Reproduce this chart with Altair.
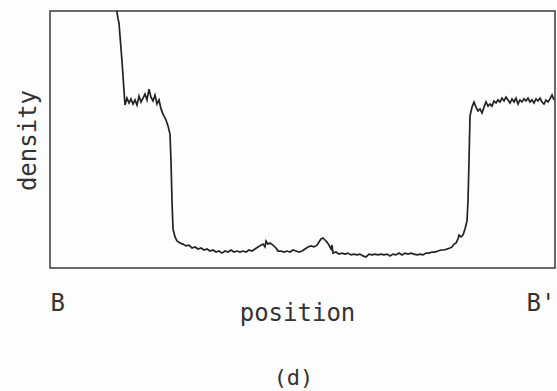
import altair as alt
import pandas as pd

position = [0, 30, 60, 66, 68, 69, 72, 75,
            77, 79, 81, 83, 85, 87, 89, 91, 93, 95, 97, 99, 101, 103, 105, 107, 109,
            111, 113, 116, 118, 120, 121, 122, 123, 125, 127, 130, 133, 136, 139,
            142, 145, 148, 151, 154, 157, 160, 163, 166, 169, 172, 175, 178, 181,
            184, 187, 190, 193, 196, 199, 202, 205, 208, 211, 213, 215, 216, 218,
            220, 223, 226, 228, 231, 234, 237, 240, 243, 246, 249, 252, 255, 258,
            261, 264, 267, 269, 271, 273, 275, 277, 279, 281, 282, 283, 286, 289,
            292, 295, 298, 301, 304, 307, 310, 313, 316, 319, 322, 325, 328, 331,
            334, 337, 340, 343, 346, 349, 352, 355, 358, 361, 364, 367, 370, 373,
            376, 379, 382, 385, 388, 391, 394, 397, 400, 402, 404, 406, 408, 409,
            411, 413, 415, 417, 418, 419, 420, 422, 424, 426, 428, 430, 432, 434,
            436, 438, 440, 442, 444, 446, 448, 450, 452, 454, 456, 458, 460, 462,
            464, 466, 468, 470, 472, 474, 476, 478, 480, 482, 484, 486, 488, 490,
            492, 494, 496, 498, 500, 502, 504]
density = [115, 114, 113, 102, 97, 95.3, 80.5, 63.4,
           66.1, 64.2, 65.8, 63.8, 65.4, 63.4, 66.9, 64.6, 66.1, 67.7, 65.4, 69.6, 66.5, 65.0, 67.3, 63.8, 65.4,
           61.9, 59.9, 57.6, 55.3, 52.1, 41.6, 26.1, 15.2, 12.1, 10.5, 9.7, 9.3, 8.6, 8.9,
           7.8, 8.2, 7.4, 7.8, 7.0, 7.4, 6.6, 7.0, 6.2, 6.6, 5.8, 6.6, 6.2, 7.0,
           6.2, 6.6, 6.2, 6.6, 6.2, 7.0, 6.6, 7.4, 8.2, 8.9, 9.3, 8.2, 10.5, 9.3,
           9.7, 8.9, 7.8, 6.6, 6.6, 6.2, 6.6, 6.2, 7.0, 6.6, 6.2, 6.6, 7.4, 8.2,
           8.6, 8.2, 8.9, 10.1, 11.3, 11.7, 10.9, 10.1, 8.9, 7.4, 8.9, 5.8, 6.2, 5.4,
           5.8, 5.4, 5.8, 5.1, 5.4, 5.1, 5.4, 4.7, 4.3, 5.4, 5.1, 5.4, 5.1, 5.4,
           5.1, 5.4, 4.7, 5.4, 5.1, 5.8, 5.1, 5.8, 5.4, 5.8, 5.4, 5.1, 5.4, 5.1,
           5.8, 5.8, 6.2, 6.2, 6.6, 7.0, 7.0, 7.4, 7.8, 8.2, 9.3, 9.7, 11.3, 12.8,
           12.1, 12.8, 15.2, 18.3, 26.1, 41.6, 59.1, 62.6, 64.6, 62.6, 61.1, 61.9, 60.3, 62.6,
           64.6, 63.0, 63.8, 63.0, 65.0, 64.2, 65.4, 64.6, 66.1, 65.0, 66.5, 65.4, 64.2, 65.8,
           64.6, 66.1, 63.8, 65.4, 64.6, 65.8, 65.0, 66.1, 64.6, 65.4, 64.2, 65.8, 65.0, 66.1,
           64.6, 63.8, 65.4, 64.6, 65.8, 67.3, 65.4]

end_labels = ["B", "B'"]
x_title = "position"
y_title = "density"
caption = "(d)"

df = pd.DataFrame({"position": position, "density": density})

FONT = "DejaVu Sans Mono"
INK = "#333333"

chart = alt.Chart(df).mark_line(
    color="#222222", strokeWidth=1.7, clip=True, interpolate="linear"
).encode(
    x=alt.X("position:Q",
            scale=alt.Scale(domain=[0, 505], nice=False, zero=False),
            axis=alt.Axis(values=[0, 505],
                          labelExpr=f"datum.value == 0 ? '{end_labels[0]}' : \"{end_labels[1]}\"",
                          labelFlush=True, ticks=False, domain=False, grid=False,
                          labelFont=FONT, labelFontSize=24, labelColor=INK,
                          labelPadding=23,
                          title=x_title, titleFont=FONT, titleFontSize=24,
                          titleFontWeight="normal", titleColor=INK,
                          titleX=247, titleY=52, titleBaseline="alphabetic")),
    y=alt.Y("density:Q",
            scale=alt.Scale(domain=[0, 100], nice=False, zero=False),
            axis=alt.Axis(labels=False, ticks=False, domain=False, grid=False,
                          title=y_title, titleFont=FONT, titleFontSize=24,
                          titleFontWeight="normal", titleColor=INK,
                          titleX=-15, titleY=129, titleAlign="center",
                          titleBaseline="alphabetic", titleAngle=270)),
).properties(
    width=505, height=257,
    background="#fdfdfd",
    title=alt.TitleParams(caption, orient="bottom", anchor="middle",
                          font=FONT, fontSize=22, fontWeight="normal",
                          color=INK, offset=0, dx=-9, dy=43),
    autosize=alt.AutoSizeParams(type="none"),
    padding={"left": 50, "top": 11, "right": 2, "bottom": 123},
).configure_view(stroke="#3a3a3a", strokeWidth=1.5)

chart.save("out.html", embed_options={"renderer": "svg", "actions": False})
